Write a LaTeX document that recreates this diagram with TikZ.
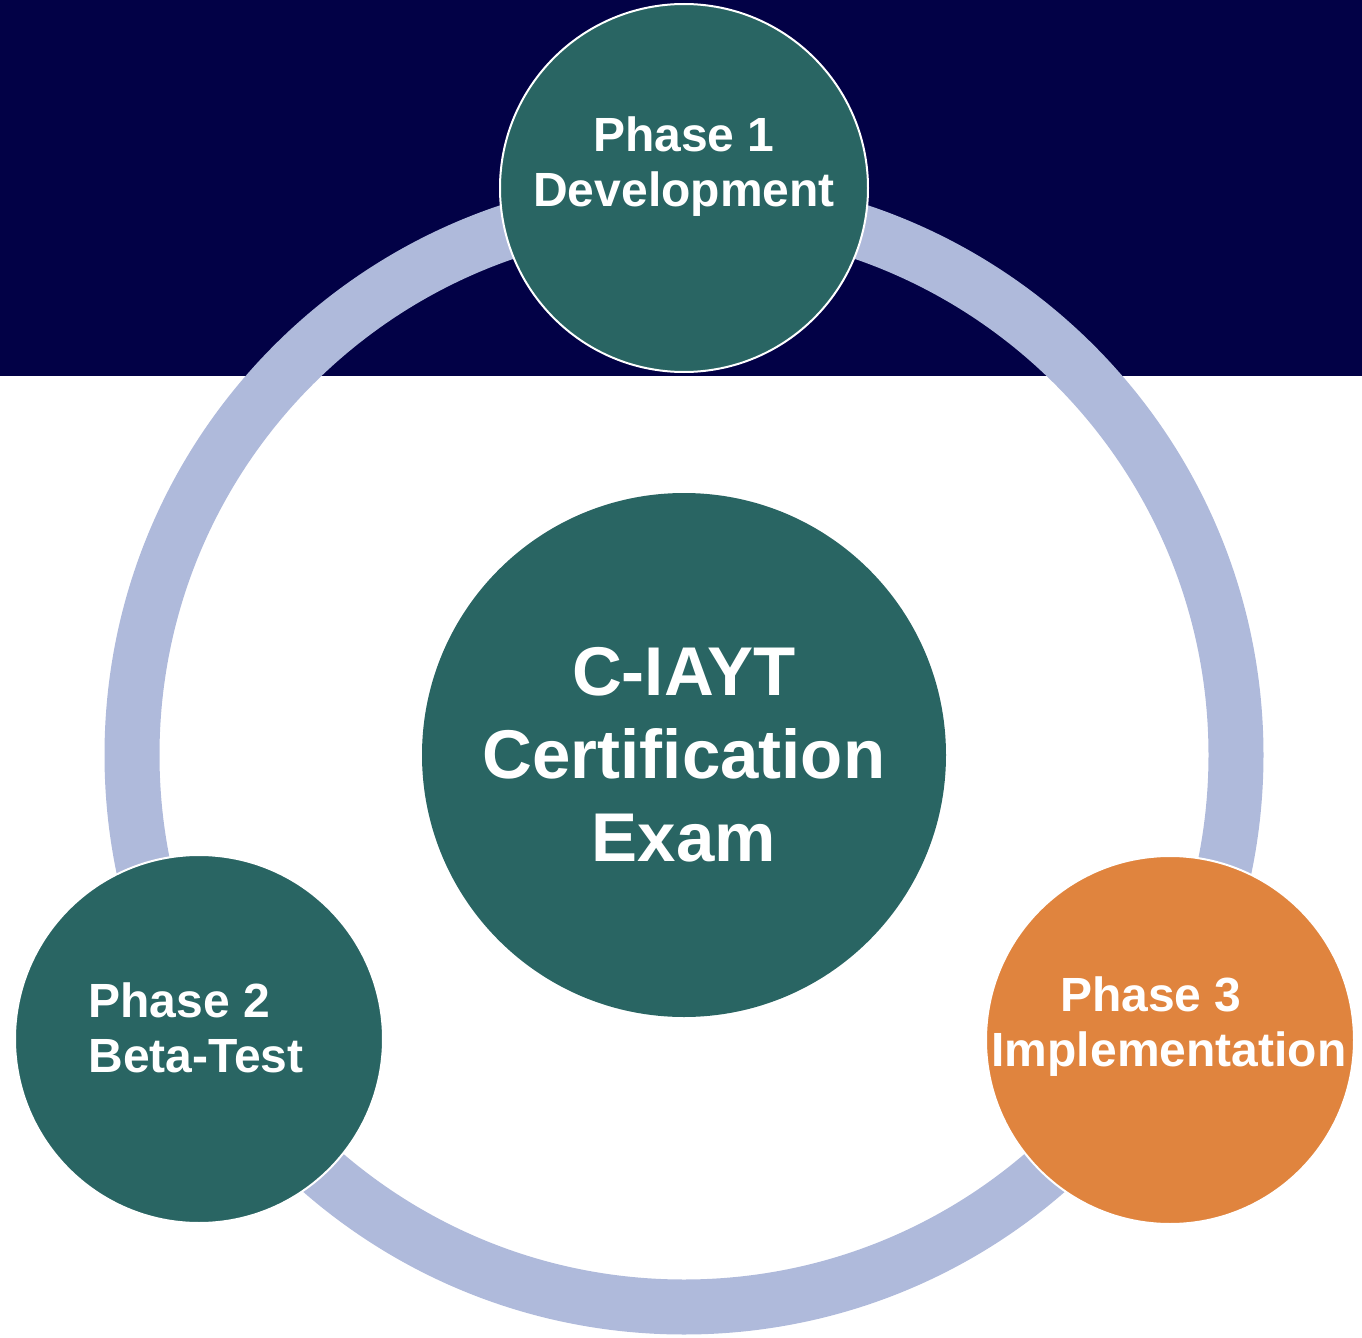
\documentclass[tikz,border=0pt]{standalone}
\usepackage{fontspec}
\setmainfont{Liberation Sans}
\definecolor{bandnavy}{RGB}{2,1,70}
\definecolor{ringblue}{RGB}{175,186,219}
\definecolor{phaseteal}{RGB}{41,101,99}
\definecolor{phaseorange}{RGB}{224,132,62}

\begin{document}
\begin{tikzpicture}[x=0.5pt,y=-0.5pt]
  \tikzset{phase circle/.style={draw=white,line width=1pt,circle,minimum size=184pt,inner sep=0pt,fill=#1}}
  \tikzset{phase text/.style={text=white,inner sep=0pt,font=\fontsize{24pt}{27.5pt}\selectfont\bfseries}}

  \useasboundingbox (0,0) rectangle (1362,1338);
  \fill[bandnavy] (0,0) rectangle (1362,376);

  \node [circle,fill=phaseteal,minimum size=262pt,inner sep=0pt,text=white,align=center,
         font=\fontsize{34.5pt}{41.5pt}\selectfont\bfseries] (exam) at (684,755) {C-IAYT\\Certification\\Exam};
  \draw [ringblue,line width=27.5pt] (exam.center) circle [radius=276pt];

  \node [phase circle = phaseteal] (dev) at (684,188) {};
  \node [phase circle = phaseteal] (beta) at (199,1039) {};
  \node [phase circle = phaseorange] (impl) at (1170,1040) {};
  \node [phase text,align=center] (devtext) at (684,167) {Phase 1\\Development};
  \node [phase text,align=left,anchor=west] (betatext) at (88,1028) {Phase 2\\Beta-Test};
  \node [phase text,align=center] (impltext) at (1169,1027) {Phase 3\hspace*{18pt}\\Implementation};
\end{tikzpicture}
\end{document}
